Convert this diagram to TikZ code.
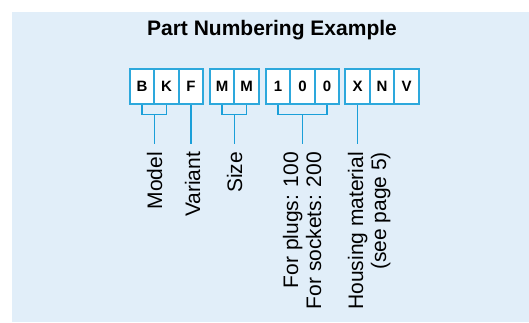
\documentclass[tikz,border=0pt]{standalone}
\usepackage{fontspec}
\setmainfont{Liberation Sans}
\usepackage{xcolor}
\usetikzlibrary{positioning, calc}
\definecolor{panelblue}{HTML}{E1EEF9}
\definecolor{boxblue}{HTML}{2DA8DC}
\definecolor{lineblue}{HTML}{1A9FD9}
\tikzstyle{digit}     = [rectangle, draw=boxblue, line width=1.6pt, fill=white,
    minimum width=24.5pt, minimum height=35pt, inner sep=0pt,
    font=\fontsize{15}{18}\selectfont\bfseries]
\tikzstyle{fieldname} = [rotate=90, anchor=north east, align=right, inner sep=0pt,
    outer sep=0pt, font=\fontsize{21}{23}\selectfont]
\tikzstyle{link}      = [draw=lineblue, line width=1.2pt]

\begin{document}
\begin{tikzpicture}[x=1pt, y=1pt, node distance=24.5pt]
    \fill [panelblue] (12,0) rectangle (529,310);
    \useasboundingbox (0,0) rectangle (529,322);

    \node (title) [anchor=base, font=\fontsize{21}{25}\selectfont\bfseries] at (272,286) {Part Numbering Example};

    \node (bB)   [digit] at (142,235.3)            {B};
    \node (bK)   [digit, right of=bB]              {K};
    \node (bF)   [digit, right of=bK]              {F};
    \node (bM1)  [digit, right of=bF, xshift=6.5pt] {M};
    \node (bM2)  [digit, right of=bM1]             {M};
    \node (bOne) [digit, right of=bM2, xshift=7pt] {1};
    \node (bZa)  [digit, right of=bOne]            {0};
    \node (bZb)  [digit, right of=bZa]             {0};
    \node (bX)   [digit, right of=bZb, xshift=6pt] {X};
    \node (bN)   [digit, right of=bX]              {N};
    \node (bV)   [digit, right of=bN]              {V};

    \node (lblModel)   [fieldname] at (147,170) {Model};
    \node (lblVariant) [fieldname] at (185,170) {Variant};
    \node (lblSize)    [fieldname] at (227,170) {Size};
    \node (lblCount)   [fieldname] at (283,170) {For plugs: 100\\For sockets: 200};
    \node (lblHousing) [fieldname] at (348,170) {Housing material\\(see page 5)};

    % brackets under the grouped fields
    \coordinate (jModel) at ($(bB.south)!0.5!(bK.south)+(0,-9.5)$);
    \coordinate (jSize)  at ($(bM1.south)!0.5!(bM2.south)+(0,-9.5)$);
    \coordinate (jCount) at ($(bOne.south)!0.5!(bZb.south)+(0,-9.5)$);
    \draw [link] (bB.south) |- (jModel) -| (bK.south);
    \draw [link] (bM1.south) |- (jSize) -| (bM2.south);
    \draw [link] (bOne.south) |- (jCount) -| (bZb.south);

    \draw [link, shorten >=8pt] (jModel) -- (jModel |- lblModel.east);
    \draw [link, shorten >=8pt] (bF.south) -- (bF.south |- lblVariant.east);
    \draw [link, shorten >=8pt] (jSize) -- (jSize |- lblSize.east);
    \draw [link, shorten >=8pt] (jCount) -- (jCount |- lblCount.east);
    \draw [link, shorten >=8pt] (bX.south) -- (bX.south |- lblHousing.east);
\end{tikzpicture}
\end{document}
